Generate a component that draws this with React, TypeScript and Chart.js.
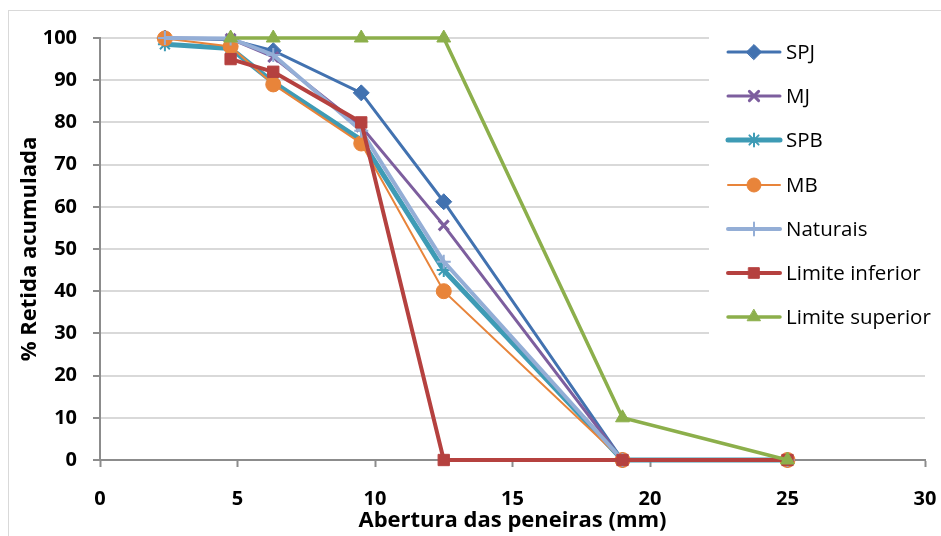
import React, { useEffect, useRef } from "react";
import { Chart, registerables } from "chart.js";
import { drawPoint } from "chart.js/helpers";

Chart.register(...registerables);

const sieveSizes = [2.36, 4.75, 6.3, 9.5, 12.5, 19, 25];
const spj = [100, 99.6, 97, 87, 61.2, 0, 0];
const mj = [100, 99.8, 95.5, 79, 55.6, 0, 0];
const spb = [98.5, 97.5, 89.5, 75.8, 45, 0, 0];
const mb = [99.9, 98, 89, 75, 40, 0, 0];
const naturais = [100, 99.9, 96, 78, 47, 0, 0];
const limiteInferior = [null, 95, 92, 80, 0, 0, 0];
const limiteSuperior = [null, 100, 100, 100, 100, 10, 0];

const xTicks = [0, 5, 10, 15, 20, 25, 30];
const yTicks = [0, 10, 20, 30, 40, 50, 60, 70, 80, 90, 100];

const seriesNames = ["SPJ", "MJ", "SPB", "MB", "Naturais", "Limite inferior", "Limite superior"];
const seriesValues = [spj, mj, spb, mb, naturais, limiteInferior, limiteSuperior];
const seriesStyles = [
  { color: "#4272B0", width: 3, point: "rectRot", radius: 8, pw: 1 },
  { color: "#7D5E9E", width: 3, point: "crossRot", radius: 7, pw: 3 },
  { color: "#3E9BB5", width: 5, point: "star", radius: 7, pw: 2 },
  { color: "#E8843A", width: 2, point: "circle", radius: 7.5, pw: 1 },
  { color: "#94AED6", width: 4, point: "cross", radius: 7, pw: 2 },
  { color: "#B5413F", width: 4, point: "rect", radius: 8, pw: 1 },
  { color: "#8CAF4B", width: 3.5, point: "triangle", radius: 8, pw: 1 },
];

const FONT = "'Open Sans', 'DejaVu Sans', sans-serif";

const frameAndLegend = {
  id: "frameAndLegend",
  beforeDraw(chart: any) {
    const ctx = chart.ctx;
    ctx.save();
    ctx.fillStyle = "#ffffff";
    ctx.fillRect(0, 0, chart.width, chart.height);
    ctx.strokeStyle = "#D9D9D9";
    ctx.lineWidth = 1;
    ctx.strokeRect(8.5, 10.5, 2000, 2000);
    ctx.restore();
  },
  afterDraw(chart: any) {
    const ctx = chart.ctx;
    ctx.save();
    ctx.fillStyle = "#ffffff";
    ctx.fillRect(709, 21, 240, 322);
    const rowY = [52, 96, 140, 185, 229, 273, 317];
    chart.data.datasets.forEach((ds: any, i: number) => {
      const y = rowY[i];
      const st = seriesStyles[i];
      ctx.strokeStyle = st.color;
      ctx.lineWidth = st.width;
      ctx.lineCap = "round";
      ctx.beginPath();
      ctx.moveTo(728, y);
      ctx.lineTo(780, y);
      ctx.stroke();
      ctx.fillStyle = st.color;
      ctx.strokeStyle = st.color;
      ctx.lineWidth = st.pw;
      drawPoint(ctx, { pointStyle: st.point, radius: st.radius - 0.5, borderWidth: st.pw, rotation: 0 }, 754, y);
      ctx.fillStyle = "#000000";
      ctx.font = `20.5px ${FONT}`;
      ctx.textBaseline = "middle";
      ctx.textAlign = "left";
      ctx.fillText(ds.label, 786, y + 1);
    });
    ctx.restore();
  },
};

export default function App() {
  const ref = useRef<HTMLCanvasElement | null>(null);
  useEffect(() => {
    if (!ref.current) return;
    const datasets = seriesNames.map((name, i) => {
      const st = seriesStyles[i];
      return {
        label: name,
        data: sieveSizes.map((x, j) => ({ x, y: seriesValues[i][j] })),
        borderColor: st.color,
        backgroundColor: st.color,
        borderWidth: st.width,
        pointStyle: st.point,
        pointRadius: st.radius,
        pointBorderWidth: st.pw,
        pointBackgroundColor: st.color,
        pointBorderColor: st.color,
        showLine: true,
        spanGaps: false,
        clip: false,
        order: 10 - i,
      };
    });
    const chart = new Chart(ref.current, {
      type: "scatter",
      data: { datasets: datasets as any },
      plugins: [frameAndLegend],
      options: {
        animation: false,
        responsive: true,
        maintainAspectRatio: false,
        layout: { padding: { left: 0, right: 16, top: 38, bottom: 0 } },
        plugins: { legend: { display: false }, tooltip: { enabled: false } },
        scales: {
          x: {
            type: "linear",
            min: 0,
            max: 30,
            afterBuildTicks: (s: any) => { s.ticks = xTicks.map((v) => ({ value: v })); },
            afterFit: (s: any) => { s.height = 76; s.paddingRight = 0; s.paddingLeft = 0; },
            ticks: { color: "#000", font: { family: FONT, size: 20, weight: "bold" }, padding: 20 },
            grid: { drawOnChartArea: false, drawTicks: true, tickLength: 7, tickColor: "#8C8C8C", tickWidth: 2 },
            border: { color: "#8C8C8C", width: 2 },
            title: {
              display: true,
              text: "Abertura das peneiras (mm)",
              color: "#000",
              font: { family: FONT, size: 22, weight: "bold" },
              padding: { top: 0, bottom: 2 },
            },
          },
          y: {
            type: "linear",
            min: 0,
            max: 100,
            afterBuildTicks: (s: any) => { s.ticks = yTicks.map((v) => ({ value: v })); },
            afterFit: (s: any) => { s.width = 100; },
            ticks: { color: "#000", font: { family: FONT, size: 20, weight: "bold" }, padding: 16 },
            grid: { color: "#D9D9D9", lineWidth: 2, drawTicks: true, tickLength: 7, tickColor: "#8C8C8C", tickWidth: 2 },
            border: { color: "#8C8C8C", width: 2 },
            title: {
              display: true,
              text: "% Retida acumulada",
              color: "#000",
              font: { family: FONT, size: 22, weight: "bold" },
              padding: { top: 17, bottom: 0 },
            },
          },
        },
      },
    });
    return () => chart.destroy();
  }, []);
  return (
    <div style={{ position: "absolute", left: 0, top: 0, width: 941, height: 536 }}>
      <canvas ref={ref} />
    </div>
  );
}
